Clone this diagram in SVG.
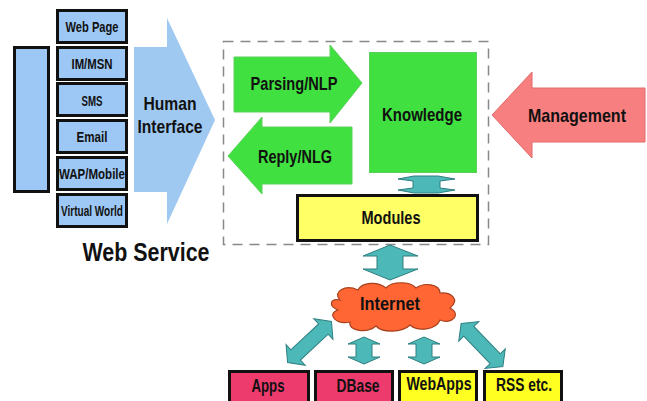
<svg xmlns="http://www.w3.org/2000/svg" width="647" height="401" viewBox="0 0 647 401">
<style>
text{font-family:"Liberation Sans Narrow","Liberation Sans",Arial,sans-serif;font-weight:bold;fill:#111;text-anchor:middle}
.blue{fill:#9DC8F5;stroke:#111;stroke-width:3}
.green{fill:#40E040;stroke:#5BD05B;stroke-width:1}
.teal{fill:#4DB8B8;stroke:#2E7F80;stroke-width:1}
.box{stroke:#111;stroke-width:3}
.s13{font-size:14.5px}
.s17{font-size:18.5px}
</style>
<rect width="647" height="401" fill="#fff"/>
<g id="channels">
<rect class="blue" x="14.5" y="47.5" width="34" height="144"/>
<rect class="blue" x="57.5" y="10.5" width="69" height="32"/>
<text class="s13" x="92" y="32" textLength="53" lengthAdjust="spacingAndGlyphs">Web Page</text>
<rect class="blue" x="57.5" y="47.5" width="69" height="32"/>
<text class="s13" x="92" y="69" textLength="41" lengthAdjust="spacingAndGlyphs">IM/MSN</text>
<rect class="blue" x="57.5" y="83.5" width="69" height="32"/>
<text class="s13" x="92" y="106" textLength="21" lengthAdjust="spacingAndGlyphs">SMS</text>
<rect class="blue" x="57.5" y="120.5" width="69" height="32"/>
<text class="s13" x="92" y="142" textLength="31" lengthAdjust="spacingAndGlyphs">Email</text>
<rect class="blue" x="57.5" y="157.5" width="69" height="32"/>
<text class="s13" x="92" y="179" textLength="66" lengthAdjust="spacingAndGlyphs">WAP/Mobile</text>
<rect class="blue" x="57.5" y="194.5" width="69" height="32"/>
<text class="s13" x="92" y="216" textLength="62" lengthAdjust="spacingAndGlyphs">Virtual World</text>
</g>
<g id="human-interface">
<polygon points="134,47 167,47 167,18 215,120 167,224 167,192 134,192" fill="#A0C9F2"/>
<text class="s17" x="170" y="110" textLength="53" lengthAdjust="spacingAndGlyphs">Human</text>
<text class="s17" x="170" y="133" textLength="65" lengthAdjust="spacingAndGlyphs">Interface</text>
</g>
<g id="web-service">
<rect x="223.5" y="41.5" width="265" height="203" fill="none" stroke="#888" stroke-width="1.5" stroke-dasharray="10,7"/>
<text x="146" y="261" font-size="25" textLength="127" lengthAdjust="spacingAndGlyphs">Web Service</text>
</g>
<g id="parsing">
<polygon class="green" points="234,57 330,57 330,45 362,83 330,123 330,112 234,112"/>
<text class="s17" x="294" y="90" textLength="87" lengthAdjust="spacingAndGlyphs">Parsing/NLP</text>
</g>
<g id="reply">
<polygon class="green" points="352,127 262,127 262,117 228,156 262,194 262,184 352,184"/>
<text class="s17" x="295" y="163" textLength="74" lengthAdjust="spacingAndGlyphs">Reply/NLG</text>
</g>
<g id="knowledge">
<rect class="green" x="369.5" y="52.5" width="107" height="120"/>
<text class="s17" x="422" y="121" textLength="80" lengthAdjust="spacingAndGlyphs">Knowledge</text>
</g>
<g id="modules">
<rect class="box" x="297.5" y="195.5" width="180" height="45" fill="#FFFF66"/>
<text class="s17" x="391" y="224" textLength="59" lengthAdjust="spacingAndGlyphs">Modules</text>
</g>
<g id="management">
<polygon points="645,88 532,88 532,72 492,115 532,158 532,142 645,142" fill="#F87F7F" stroke="#E06A6A" stroke-width="1"/>
<text class="s17" x="577" y="122" textLength="98" lengthAdjust="spacingAndGlyphs">Management</text>
</g>
<g id="internet">
<path d="M340,300 C332,292 345,284 358,290 C362,282 378,281 386,288 C392,281 410,281 416,288 C424,282 440,284 440,293 C452,292 460,300 450,308 C462,314 452,325 440,320 C436,330 418,332 410,325 C402,333 382,333 376,326 C368,333 348,332 350,322 C336,325 326,314 338,310 C328,306 330,298 340,300 Z" fill="#FF6633" stroke="#A8401E" stroke-width="1.2"/>
<text class="s17" x="390" y="310" textLength="60" lengthAdjust="spacingAndGlyphs">Internet</text>
</g>
<g id="apps">
<rect class="box" x="229.5" y="371.5" width="79" height="36" fill="#EE3B6E"/>
<text class="s17" x="268" y="392" textLength="33" lengthAdjust="spacingAndGlyphs">Apps</text>
</g>
<g id="dbase">
<rect class="box" x="315.5" y="371.5" width="77" height="36" fill="#EE3B6E"/>
<text class="s17" x="358" y="392" textLength="43" lengthAdjust="spacingAndGlyphs">DBase</text>
</g>
<g id="webapps">
<rect class="box" x="399.5" y="371.5" width="77" height="36" fill="#FFFF22"/>
<text class="s17" x="439" y="390" textLength="65" lengthAdjust="spacingAndGlyphs">WebApps</text>
</g>
<g id="rss">
<rect class="box" x="484.5" y="371.5" width="77" height="36" fill="#FFFF22"/>
<text class="s17" x="524" y="391" textLength="56" lengthAdjust="spacingAndGlyphs">RSS etc.</text>
</g>
<g id="connectors">
<polygon class="teal" points="398,179 414,176 438,176 455,179 440,181 440,188 455,190 438,193 414,193 398,190 413,188 413,181"/>
<polygon class="teal" points="390,245 418,256 403,256 403,269 418,269 390,280 363,269 377,269 377,256 363,256"/>
<polygon class="teal" points="364,337 380,344 372,344 372,357 380,357 364,364 348,357 356,357 356,344 348,344"/>
<polygon class="teal" points="424,337 440,344 432,344 432,357 440,357 424,364 408,357 416,357 416,344 408,344"/>
<polygon class="teal" transform="translate(309.5,342) rotate(-43)" points="-30,0 -19,-14 -19,-7 19,-7 19,-14 30,0 19,14 19,7 -19,7 -19,14"/>
<polygon class="teal" transform="translate(482,345) rotate(46)" points="-30,0 -19,-14 -19,-7 19,-7 19,-14 30,0 19,14 19,7 -19,7 -19,14"/>
</g>
</svg>
